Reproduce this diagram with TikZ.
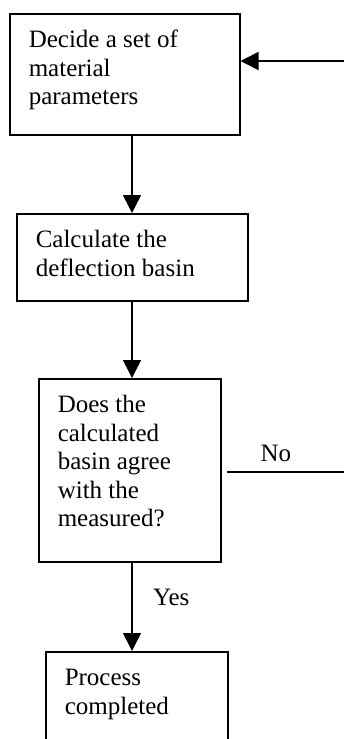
\documentclass[tikz,border=0pt]{standalone}
\usepackage{fontspec}
\setmainfont{Liberation Serif}
\usetikzlibrary{arrows.meta}
\newcommand{\StepText}[3]{\parbox[c][#1pt][t]{#2pt}{\rule{0pt}{34pt}#3}}

\tikzset{
  stepbox/.style={draw, line width=1.5pt, inner xsep=19pt, inner ysep=0pt,
    anchor=north west, font=\fontsize{25}{28.5}\selectfont},
  flow/.style={line width=1.5pt, -{Triangle[length=18pt,width=18pt]}},
  tag/.style={font=\fontsize{25}{28.5}\selectfont}
}

\begin{document}
\begin{tikzpicture}[x=1pt,y=-1pt]
  \useasboundingbox (0,0) rectangle (344,739);
  \clip (0,0) rectangle (344,739);
  % the four steps
  \node[stepbox] (decide) at (9,13) {\StepText{121}{192}{Decide a set of\\material\\parameters}};
  \node[stepbox] (calc) at (16,213) {\StepText{87}{193}{Calculate the\\deflection basin}};
  \node[stepbox] (agree) at (38,378) {\StepText{183}{144}{Does the\\calculated\\basin agree\\with the\\measured?}};
  \node[stepbox] (done) at (45,651) {\StepText{110}{144}{Process\\completed}};
  \coordinate (spine) at (132,0);
  \coordinate (noend) at (344,472);
  \coordinate (back) at (344,61);
  % connectors
  \draw[flow] (decide.south -| spine) -- (calc.north -| spine);
  \draw[flow] (calc.south -| spine) -- (agree.north -| spine);
  \draw[flow] (agree.south -| spine) -- node[tag, right=17pt, pos=0.39] (yes) {Yes} (done.north -| spine);
  \draw[line width=1.5pt] ([xshift=5pt]agree.east |- noend) -- node[tag, above=6pt, pos=0.42] (no) {No} (noend);
  \draw[flow] (back) -- (decide.east |- back);
\end{tikzpicture}
\end{document}
